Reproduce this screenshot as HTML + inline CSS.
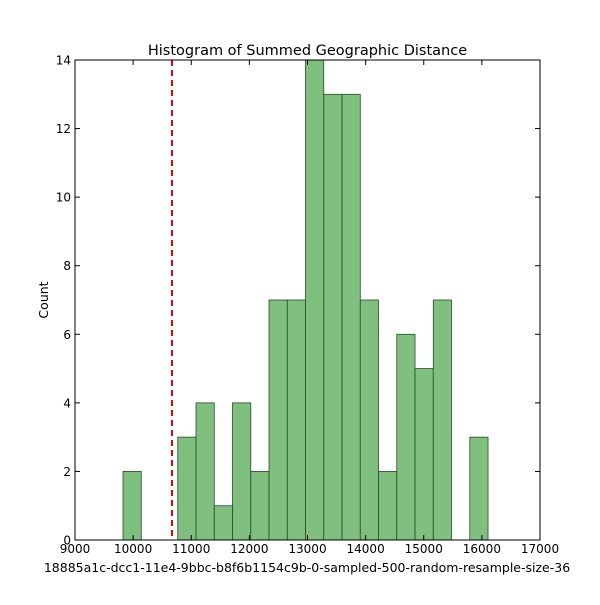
<!DOCTYPE html>
<html><head><meta charset="utf-8"><style>
body{margin:0;background:#fff;}
svg{font-family:"DejaVu Sans","Liberation Sans",sans-serif;}
</style></head><body>
<svg width="600" height="600" id="chart">
<rect x="0" y="0" width="600" height="600" fill="#fff"/>
<text x="307.5" y="55" font-size="14.5" text-anchor="middle">Histogram of Summed Geographic Distance</text>
<text x="307" y="572" font-size="12.5" text-anchor="middle">18885a1c-dcc1-11e4-9bbc-b8f6b1154c9b-0-sampled-500-random-resample-size-36</text>
<text x="48" y="300" font-size="12.5" text-anchor="middle" transform="rotate(-90 48 300)">Count</text>
<g id="bars"></g><g id="ticks"></g>
<rect x="75" y="60" width="465" height="480" fill="none" stroke="#000" stroke-width="1"/>
</svg>
<script>
const counts=[2,0,0,3,4,1,4,2,7,7,14,13,13,7,2,6,5,7,0,3];
const binStart=[9826];
const binWidth=[314];
const xTicks=[9000,10000,11000,12000,13000,14000,15000,16000,17000];
const yTicks=[0,2,4,6,8,10,12,14];
const refLine=[10669];
const NS="http://www.w3.org/2000/svg";
const X=v=>75+(v-9000)/8000*465;
const Y=v=>540-v/14*480;
const bars=document.getElementById('bars'),tk=document.getElementById('ticks');
function mk(t,a,p){const e=document.createElementNS(NS,t);for(const k in a)e.setAttribute(k,a[k]);p.appendChild(e);return e;}
counts.forEach((c,i)=>{if(!c)return;
const x0=X(binStart[0]+i*binWidth[0]),x1=X(binStart[0]+(i+1)*binWidth[0]);
const r=mk('rect',{x:x0,y:Y(c),width:x1-x0,height:Y(0)-Y(c),fill:'#7fc07f',stroke:'#2a4a2a','stroke-width':0.8},bars);


});
const l=mk('line',{x1:X(refLine[0]),x2:X(refLine[0]),y1:60,y2:540,stroke:'#e00','stroke-width':2,'stroke-dasharray':'6,4'},bars);


xTicks.forEach(v=>{const x=X(v);
mk('line',{x1:x,x2:x,y1:540,y2:535,stroke:'#000'},tk);mk('line',{x1:x,x2:x,y1:60,y2:65,stroke:'#000'},tk);
const t=mk('text',{x:x,y:553,'font-size':12,'text-anchor':'middle'},tk);t.textContent=v;

});
yTicks.forEach(v=>{const y=Y(v);
mk('line',{x1:75,x2:80,y1:y,y2:y,stroke:'#000'},tk);mk('line',{x1:540,x2:535,y1:y,y2:y,stroke:'#000'},tk);
const t=mk('text',{x:71,y:y+4.5,'font-size':12,'text-anchor':'end'},tk);t.textContent=v;

});
</script>
</body></html>
